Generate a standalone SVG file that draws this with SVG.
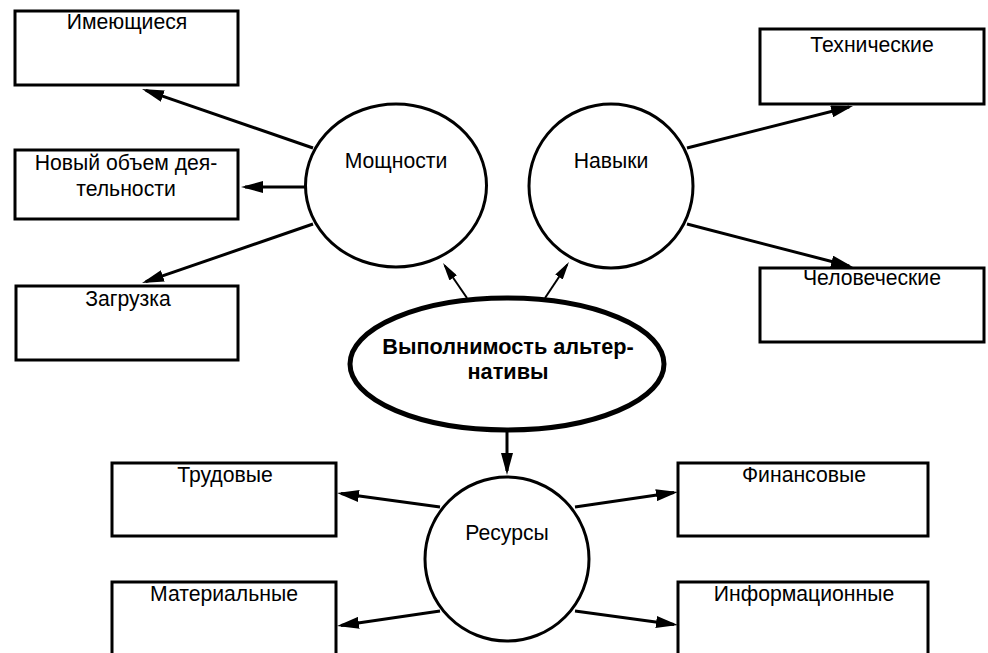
<svg xmlns="http://www.w3.org/2000/svg" width="988" height="653" viewBox="0 0 988 653">
<style>
.box{fill:#fff;stroke:#000;stroke-width:3}
.circ{fill:#fff;stroke:#000;stroke-width:3}
.t{font-family:"Liberation Sans",Arial,sans-serif;font-size:21.2px;fill:#000;text-anchor:middle}
.b{font-weight:bold;font-size:21.7px}
.a{stroke:#000;stroke-width:3;fill:none;marker-end:url(#ah)}
.s{stroke:#000;stroke-width:2;fill:none;marker-end:url(#sh)}
</style>
<defs>
<marker id="ah" markerUnits="userSpaceOnUse" markerWidth="22" markerHeight="12" refX="18" refY="6" orient="auto">
<path d="M0,0 L22,6 L0,12 z" fill="#000"/>
</marker>
<marker id="sh" markerUnits="userSpaceOnUse" markerWidth="18" markerHeight="9" refX="15" refY="4.5" orient="auto">
<path d="M0,0 L18,4.5 L0,9 z" fill="#000"/>
</marker>
</defs>
<rect width="988" height="653" fill="#fff"/>
<g id="connectors">
<line class="a" x1="313" y1="148" x2="145.8" y2="90.3"/>
<line class="a" x1="305" y1="187" x2="245" y2="187"/>
<line class="a" x1="313" y1="224" x2="145.8" y2="281.7"/>
<line class="a" x1="687" y1="148" x2="849.1" y2="107"/>
<line class="a" x1="687" y1="224" x2="849.1" y2="266"/>
<line class="s" x1="467" y1="298" x2="444.7" y2="265.5"/>
<line class="s" x1="545" y1="298" x2="567.3" y2="264.5"/>
<line class="a" x1="507" y1="432" x2="507" y2="471"/>
<line class="a" x1="440" y1="507" x2="341" y2="493.5"/>
<line class="a" x1="440" y1="611" x2="341" y2="625.4"/>
<line class="a" x1="575" y1="507" x2="674" y2="492.6"/>
<line class="a" x1="575" y1="611" x2="674" y2="624.5"/>
</g>
<g id="n-imeyushchiesya"><rect class="box" x="15" y="11" width="223" height="74"/><text class="t" x="127" y="29">Имеющиеся</text></g>
<g id="n-novyy"><rect class="box" x="15" y="150" width="223" height="69"/><text class="t" x="126" y="170">Новый объем дея-</text><text class="t" x="126" y="196">тельности</text></g>
<g id="n-zagruzka"><rect class="box" x="16" y="286" width="222" height="74"/><text class="t" x="128" y="306">Загрузка</text></g>
<g id="n-tekhnicheskie"><rect class="box" x="760" y="29" width="224" height="75"/><text class="t" x="872" y="52">Технические</text></g>
<g id="n-chelovecheskie"><rect class="box" x="760" y="268" width="224" height="74"/><text class="t" x="872" y="285">Человеческие</text></g>
<g id="n-moshchnosti"><ellipse class="circ" cx="396" cy="185.5" rx="90.5" ry="81.5"/><text class="t" x="396" y="168">Мощности</text></g>
<g id="n-navyki"><circle class="circ" cx="611" cy="186" r="82"/><text class="t" x="611" y="168">Навыки</text></g>
<g id="n-vypolnimost"><ellipse cx="507" cy="364" rx="157" ry="66" fill="#fff" stroke="#000" stroke-width="5"/><text class="t b" x="508" y="354">Выполнимость альтер-</text><text class="t b" x="508" y="379">нативы</text></g>
<g id="n-resursy"><circle class="circ" cx="507" cy="559" r="82"/><text class="t" x="507" y="540">Ресурсы</text></g>
<g id="n-trudovye"><rect class="box" x="112" y="463" width="224" height="73"/><text class="t" x="225" y="482">Трудовые</text></g>
<g id="n-materialnye"><rect class="box" x="112" y="582" width="224" height="100"/><text class="t" x="224" y="601">Материальные</text></g>
<g id="n-finansovye"><rect class="box" x="678" y="463" width="250" height="73"/><text class="t" x="804" y="482">Финансовые</text></g>
<g id="n-informatsionnye"><rect class="box" x="678" y="582" width="250" height="100"/><text class="t" x="804" y="601">Информационные</text></g>
</svg>
